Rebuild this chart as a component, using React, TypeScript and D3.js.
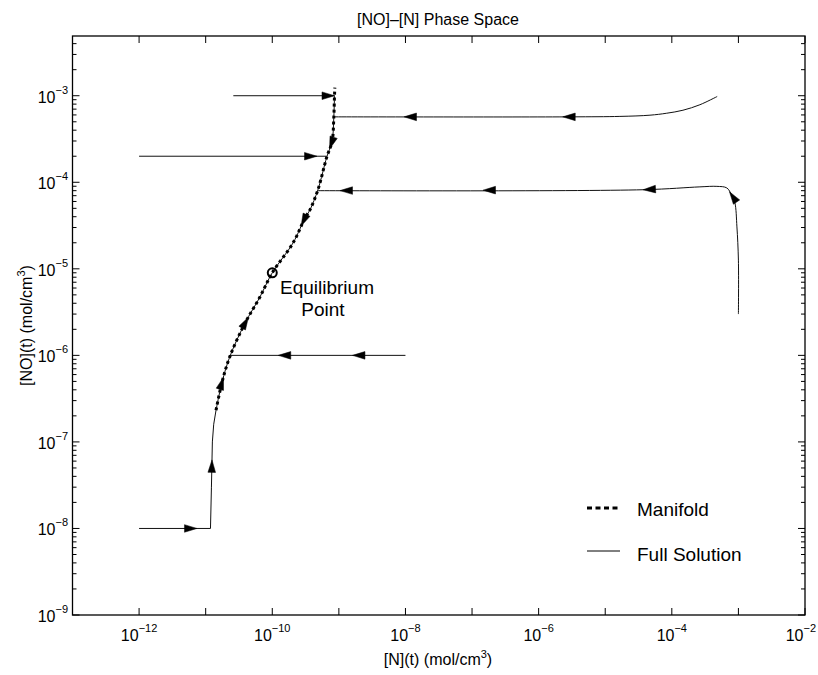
import React from "react";
import * as d3 from "d3";

type Pt = [number, number]; // [N, NO] in mol/cm^3

// slow manifold, from bottom to top
const manifold: Pt[] = [
  [1.43e-11, 2.32e-7], [1.76e-11, 4.9e-7], [2.32e-11, 9.8e-7], [3.9e-11, 2.36e-6],
  [6.5e-11, 4.7e-6], [1.0e-10, 9.0e-6], [2.05e-10, 1.99e-5], [3.1e-10, 3.87e-5],
  [3.68e-10, 4.8e-5], [4.85e-10, 8.2e-5], [6.6e-10, 1.97e-4], [7.9e-10, 2.94e-4],
  [8.4e-10, 5.7e-4], [8.6e-10, 1.0e-3], [8.7e-10, 1.24e-3],
];

const equilibrium: Pt = [1.0e-10, 9.0e-6];

// full solutions (approach to the manifold)
const trajTop: Pt[] = [[2.6e-11, 1e-3], [8.6e-10, 1e-3]];
const trajUpperLeft: Pt[] = [[1e-12, 2e-4], [6.6e-10, 2e-4]];
const trajUpperRight: Pt[] = [
  [4.8e-4, 9.8e-4], [2.64e-4, 7.87e-4], [1.47e-4, 6.8e-4], [8.4e-5, 6.28e-4],
  [4.7e-5, 5.96e-4], [1.66e-5, 5.77e-4], [2.95e-6, 5.7e-4], [8.4e-10, 5.7e-4],
];
const trajRight: Pt[] = [
  [1e-3, 3e-6], [1e-3, 1.26e-5], [9.5e-4, 3.05e-5], [8.85e-4, 5.8e-5],
  [7.9e-4, 7.15e-5], [6.7e-4, 8.6e-5], [4.75e-4, 8.97e-5], [2.64e-4, 8.85e-5],
  [3.7e-5, 8.2e-5], [4.85e-10, 8.0e-5],
];
const trajMid: Pt[] = [[1e-8, 1e-6], [2.32e-11, 1e-6]];
const trajBottom: Pt[] = [
  [1e-12, 1e-8], [1.18e-11, 1e-8], [1.22e-11, 3e-8],
  [1.26e-11, 1e-7], [1.32e-11, 1.6e-7], [1.43e-11, 2.32e-7],
];

// arrow tips along each path
const arrowsTop: Pt[] = [[8.6e-10, 1e-3]];
const arrowsUpperLeft: Pt[] = [[4.7e-10, 2e-4]];
const arrowsUpperRight: Pt[] = [[2.3e-6, 5.7e-4], [9.5e-9, 5.7e-4]];
const arrowsRight: Pt[] = [[7.4e-4, 7.8e-5], [3.7e-5, 8.2e-5], [1.46e-7, 8.1e-5], [1.04e-9, 8.0e-5]];
const arrowsMid: Pt[] = [[1.6e-9, 1e-6], [1.23e-10, 1e-6]];
const arrowsBottom: Pt[] = [[7.4e-12, 1e-8], [1.22e-11, 6.2e-8]];
const arrowsManifoldUp: Pt[] = [[1.82e-11, 5.6e-7], [4.4e-11, 2.75e-6]];
const arrowsManifoldDown: Pt[] = [[7.9e-10, 2.37e-4], [2.9e-10, 3.05e-5]];

const xDecades = d3.range(-13, -1); // 1e-13 .. 1e-2
const xLabelled = [-12, -10, -8, -6, -4, -2];
const yDecades = d3.range(-9, -2); // 1e-9 .. 1e-3

const W = 818, H = 675;
const font = "'Liberation Sans', Arial, Helvetica, sans-serif";

export default function App() {
  const x = d3.scaleLog().domain([1e-13, 1e-2]).range([72.5, 805]);
  const y = d3.scaleLog().domain([1e-9, 4.9e-3]).range([615, 36]);
  const [x0, x1] = x.range();
  const [y0, y1] = y.range();

  const line = d3.line<Pt>().x(d => x(d[0])).y(d => y(d[1]));
  const smooth = d3.line<Pt>().x(d => x(d[0])).y(d => y(d[1])).curve(d3.curveCatmullRom);

  const arrows = (path: Pt[], tips: Pt[]) => {
    const s = path.map(p => [x(p[0]), y(p[1])]);
    return tips.map(t => {
      const px = x(t[0]), py = y(t[1]);
      let best = { d: Infinity, ux: 1, uy: 0, qx: px, qy: py };
      for (let i = 0; i < s.length - 1; i++) {
        const [ax, ay] = s[i], [bx, by] = s[i + 1];
        const vx = bx - ax, vy = by - ay;
        const len2 = vx * vx + vy * vy;
        if (len2 === 0) continue;
        const u = Math.max(0, Math.min(1, ((px - ax) * vx + (py - ay) * vy) / len2));
        const qx = ax + u * vx, qy = ay + u * vy;
        const d = Math.hypot(px - qx, py - qy);
        if (d < best.d) {
          const l = Math.sqrt(len2);
          best = { d, ux: vx / l, uy: vy / l, qx, qy };
        }
      }
      const L = 12.5, hw = 3.8;
      const { ux, uy, qx, qy } = best;
      const bx = qx - L * ux, by = qy - L * uy;
      return `M${qx},${qy}L${bx - hw * uy},${by + hw * ux}L${bx + hw * uy},${by - hw * ux}Z`;
    });
  };

  const smoothSolutions = [trajUpperRight, trajRight];
  const straightSolutions = [trajTop, trajUpperLeft, trajMid, trajBottom];
  const arrowPaths = [
    ...arrows(trajTop, arrowsTop),
    ...arrows(trajUpperLeft, arrowsUpperLeft),
    ...arrows(trajUpperRight, arrowsUpperRight),
    ...arrows(trajRight, arrowsRight),
    ...arrows(trajMid, arrowsMid),
    ...arrows(trajBottom, arrowsBottom),
    ...arrows(manifold, arrowsManifoldUp),
    ...arrows([...manifold].reverse(), arrowsManifoldDown),
  ];

  const yMinor: number[] = [];
  yDecades.forEach(e => {
    for (let m = 2; m <= 9; m++) {
      const v = m * Math.pow(10, e);
      if (v < y.domain()[1]) yMinor.push(v);
    }
  });

  return (
    <svg width={W} height={H} style={{ position: "absolute", left: 0, top: 0, background: "#fff" }}
      fontFamily={font}>
      <rect width={W} height={H} fill="#fff" />
      <text x={438} y={25} fontSize={16} textAnchor="middle">[NO]–[N] Phase Space</text>

      {/* ticks */}
      <g stroke="#000" strokeWidth={1}>
        {xDecades.map(e => {
          const v = Math.pow(10, e);
          return (
            <g key={"xt" + e}>
              <line x1={x(v)} x2={x(v)} y1={y0} y2={y0 - 7} />
              <line x1={x(v)} x2={x(v)} y1={y1} y2={y1 + 7} />
            </g>
          );
        })}
        {yDecades.map(e => {
          const v = Math.pow(10, e);
          return (
            <g key={"yt" + e}>
              <line x1={x0} x2={x0 + 7} y1={y(v)} y2={y(v)} />
              <line x1={x1} x2={x1 - 7} y1={y(v)} y2={y(v)} />
            </g>
          );
        })}
        {yMinor.map((v, i) => (
          <g key={"ym" + i}>
            <line x1={x0} x2={x0 + 4} y1={y(v)} y2={y(v)} />
            <line x1={x1} x2={x1 - 4} y1={y(v)} y2={y(v)} />
          </g>
        ))}
      </g>

      {/* tick labels */}
      <g fontSize={16} fill="#000">
        {xLabelled.map(e => {
          const last = e === -2;
          return (
            <text key={"xl" + e} x={last ? 816 : x(Math.pow(10, e))} y={641}
              textAnchor={last ? "end" : "middle"}>
              10<tspan dy={-9} fontSize={11}>{"−" + Math.abs(e)}</tspan>
            </text>
          );
        })}
        {yDecades.map(e => (
          <text key={"yl" + e} x={68} y={y(Math.pow(10, e)) + 7} textAnchor="end">
            10<tspan dy={-9} fontSize={11}>{"−" + Math.abs(e)}</tspan>
          </text>
        ))}
      </g>

      {/* axis labels */}
      <text x={438} y={665} fontSize={16} textAnchor="middle">
        [N](t) (mol/cm<tspan dy={-7} fontSize={11}>3</tspan><tspan dy={7}>)</tspan>
      </text>
      <text transform={`translate(32,${(y0 + y1) / 2}) rotate(-90)`} fontSize={16} textAnchor="middle">
        [NO](t) (mol/cm<tspan dy={-7} fontSize={11}>3</tspan><tspan dy={7}>)</tspan>
      </text>

      {/* full solutions */}
      <g fill="none" stroke="#111" strokeWidth={1}>
        {smoothSolutions.map((s, i) => <path key={"s" + i} d={smooth(s) || ""} />)}
        {straightSolutions.map((s, i) => <path key={"l" + i} d={line(s) || ""} />)}
        <path d={smooth(manifold.filter(p => p[1] <= 1e-3)) || ""} />
      </g>

      {/* manifold */}
      <path d={smooth(manifold) || ""} fill="none" stroke="#000" strokeWidth={3}
        strokeDasharray="3,3" />

      {/* arrows */}
      <g fill="#000" stroke="#000" strokeWidth={0.5}>
        {arrowPaths.map((d, i) => <path key={"a" + i} d={d} />)}
      </g>

      {/* equilibrium point */}
      <circle cx={x(equilibrium[0])} cy={y(equilibrium[1])} r={4.5} fill="none"
        stroke="#000" strokeWidth={2} />
      <text x={327} y={294} fontSize={19} textAnchor="middle">Equilibrium</text>
      <text x={323} y={316} fontSize={19} textAnchor="middle">Point</text>

      {/* legend */}
      <line x1={587} x2={620} y1={508} y2={508} stroke="#000" strokeWidth={3} strokeDasharray="5,3.5" />
      <text x={637} y={516} fontSize={19}>Manifold</text>
      <line x1={587} x2={620} y1={551} y2={551} stroke="#000" strokeWidth={1} />
      <text x={637} y={561} fontSize={19}>Full Solution</text>

      {/* box */}
      <rect x={x0} y={y1} width={x1 - x0} height={y0 - y1} fill="none" stroke="#000" strokeWidth={1.3} />
    </svg>
  );
}
